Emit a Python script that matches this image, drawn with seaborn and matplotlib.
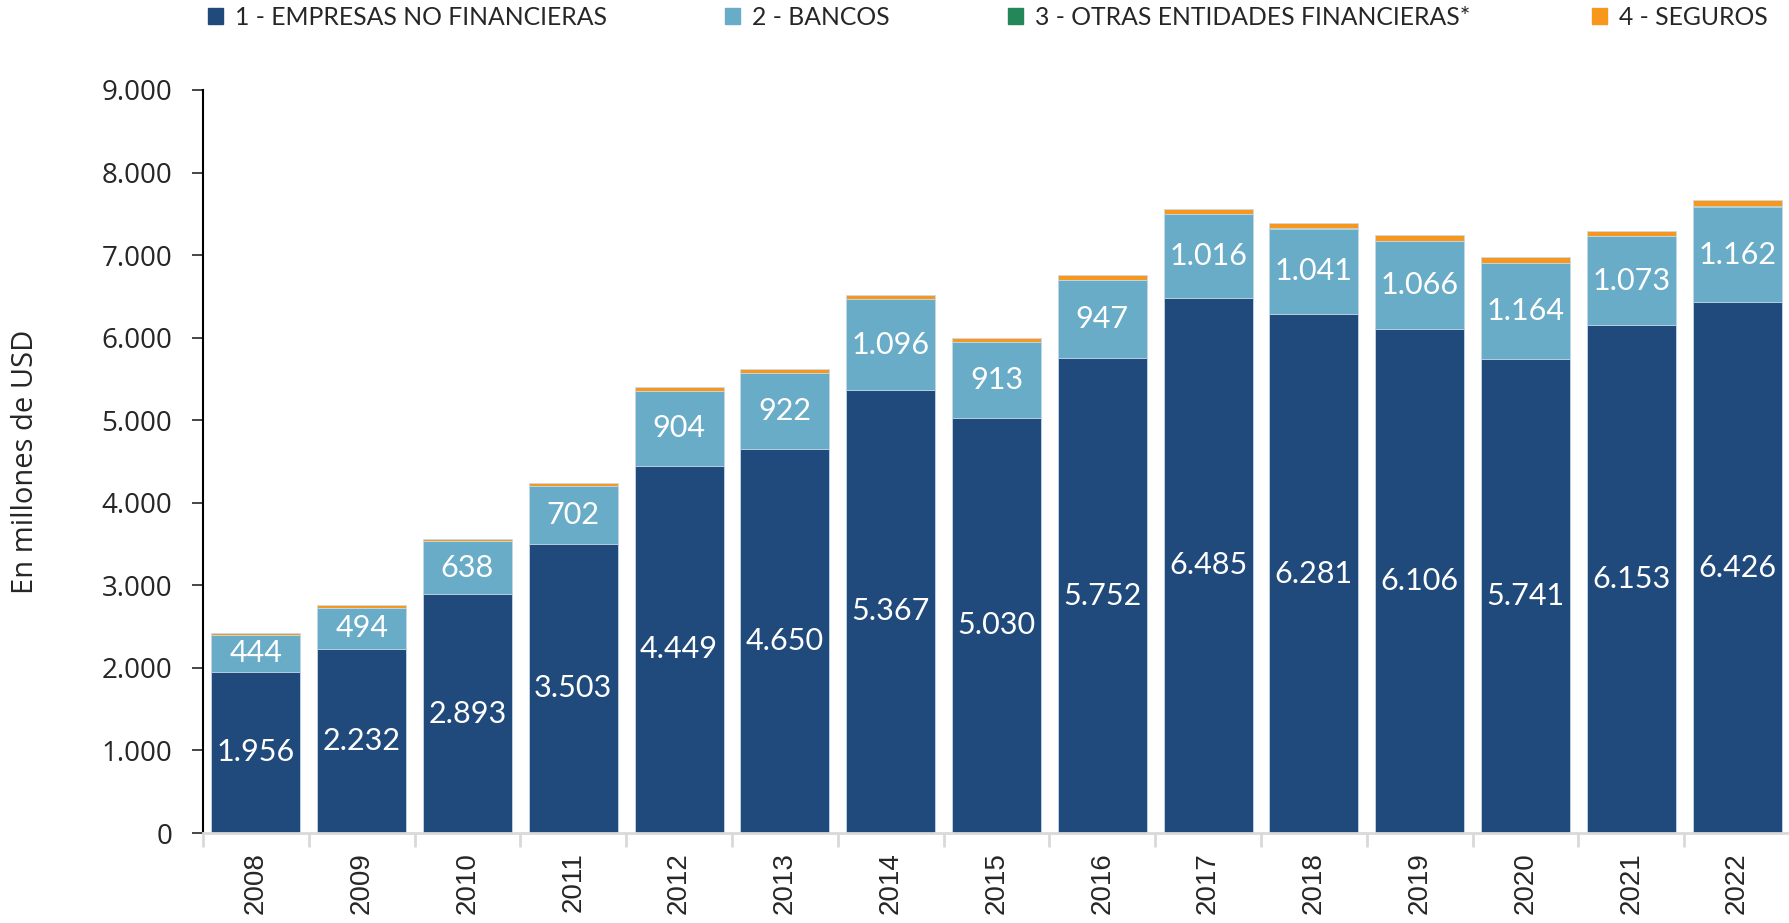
import numpy as np
import pandas as pd
import matplotlib.pyplot as plt
import seaborn as sns
from matplotlib.patches import Patch
from matplotlib.ticker import FuncFormatter, MultipleLocator

# Data (millones de USD)
years = [str(y) for y in range(2008, 2023)]
empresas = [1956, 2232, 2893, 3503, 4449, 4650, 5367, 5030, 5752, 6485, 6281, 6106, 5741, 6153, 6426]
bancos = [444, 494, 638, 702, 904, 922, 1096, 913, 947, 1016, 1041, 1066, 1164, 1073, 1162]
otras = [2, 2, 2, 2, 2, 2, 2, 2, 2, 2, 2, 2, 2, 2, 2]
seguros = [25, 28, 30, 32, 42, 45, 50, 50, 52, 58, 68, 68, 70, 70, 80]

series_names = ["1 - EMPRESAS NO FINANCIERAS", "2 - BANCOS",
                "3 - OTRAS ENTIDADES FINANCIERAS*", "4 - SEGUROS"]
colors = ["#204a7c", "#68acc8", "#23875a", "#f7971e"]

df = pd.DataFrame({"year": years, "empresas": empresas, "bancos": bancos,
                   "otras": otras, "seguros": seguros})
df["c1"] = df["empresas"]
df["c2"] = df["c1"] + df["bancos"]
df["c3"] = df["c2"] + df["otras"]
df["c4"] = df["c3"] + df["seguros"]

def miles(v, pos=None):
    return f"{int(round(v)):,}".replace(",", ".")

sns.set_style("white")
plt.rcParams["font.family"] = ["Lato", "DejaVu Sans"]

fig = plt.figure(figsize=(17.9, 9.23), dpi=100)
ax = fig.add_axes([0.1134, 0.0975, 0.8866, 0.805])

# stacked bars drawn as overlapping cumulative totals
for col, c in zip(["c4", "c3", "c2", "c1"], colors[::-1]):
    sns.barplot(data=df, x="year", y=col, color=c, width=0.84, saturation=1,
                edgecolor="#c9dbe8", linewidth=0.6, ax=ax)

# value labels
for i, row in df.iterrows():
    ax.text(i, row["empresas"] / 2, miles(row["empresas"]), ha="center", va="center",
            color="white", fontsize=22)
    ax.text(i, row["empresas"] + row["bancos"] / 2, miles(row["bancos"]), ha="center",
            va="center", color="white", fontsize=22)

ax.set_ylim(0, 9000)
ax.set_xlim(-0.5, len(years) - 0.5)
ax.yaxis.set_major_locator(MultipleLocator(1000))
ax.yaxis.set_major_formatter(FuncFormatter(miles))
ax.set_xlabel("")
ax.set_ylabel("En millones de USD", fontsize=21, family="Open Sans")
ax.yaxis.set_label_coords(-0.103, 0.5)

ax.tick_params(axis="y", labelsize=20, length=8, width=1.2, direction="out", pad=14,
               left=True, labelfontfamily="Open Sans")
ax.tick_params(axis="x", which="major", labelsize=20, length=0, pad=14, rotation=90,
               labelfontfamily="Liberation Sans")
ax.set_xticks(np.arange(-0.5, len(years), 1), minor=True)
ax.tick_params(axis="x", which="minor", length=10, width=2, color="#d9d9d9", bottom=True)

sns.despine(ax=ax, top=True, right=True)
ax.spines["left"].set_color("black")
ax.spines["left"].set_linewidth(1.5)
ax.spines["bottom"].set_color("#d9d9d9")
ax.spines["bottom"].set_linewidth(2)

# legend entries placed across the top
leg_x = [0.1162, 0.4050, 0.5631, 0.8894]
for name, c, x in zip(series_names, colors, leg_x):
    fig.legend(handles=[Patch(facecolor=c, edgecolor=c, label=name)],
               loc="center left", bbox_to_anchor=(x, 0.981), frameon=False,
               fontsize=17.8, handlelength=0.6, handleheight=0.6, handletextpad=0.5,
               borderaxespad=0, borderpad=0)

fig.savefig("out.png", dpi=100)
